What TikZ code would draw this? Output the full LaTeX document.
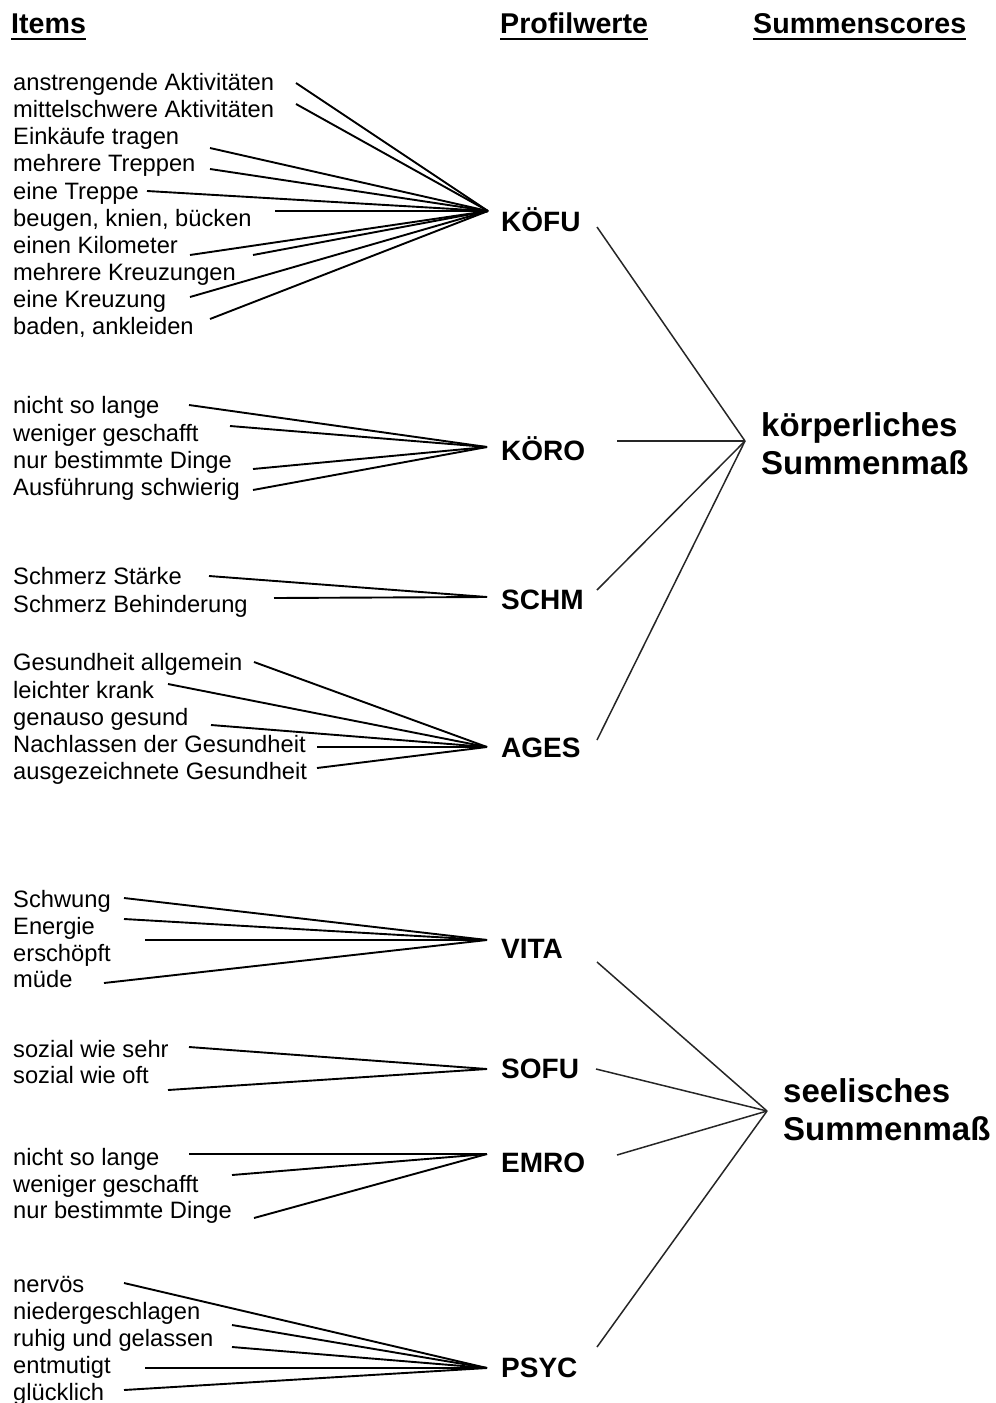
\documentclass[tikz,border=0pt]{standalone}
\usepackage{fontspec}
\setmainfont{Liberation Sans}
\tikzset{
  item/.style={anchor=base west, inner sep=0pt, font=\fontsize{23.7}{27}\selectfont},
  profil/.style={anchor=base west, inner sep=0pt, font=\bfseries\fontsize{28}{32}\selectfont},
  header/.style={anchor=base west, inner sep=0pt, font=\bfseries\fontsize{28.6}{32}\selectfont},
  summe/.style={anchor=base west, inner sep=0pt, align=left, font=\bfseries\fontsize{33}{38}\selectfont},
  fan/.style={line width=1.9pt},
  sumline/.style={line width=1.5pt, black!85},
  uline/.style={line width=1.8pt}
}
\begin{document}
\begin{tikzpicture}[x=1pt, y=-1pt]
        \useasboundingbox (0,0) rectangle (996,1403);
        % headers
        \node[header] (hitems) at (11,33) {Items};
        \node[header] (hprofil) at (500,33) {Profilwerte};
        \node[header] (hsumme) at (753,33) {Summenscores};
        \foreach \h in {hitems,hprofil,hsumme}
            \draw[uline] ([yshift=-6pt]\h.base west) -- ([yshift=-6pt]\h.base east);

        % Profilwerte
        \node[profil] (koefu) at (501,231) {KÖFU};
        \node[profil] (koero) at (501,460) {KÖRO};
        \node[profil] (schm) at (501,609) {SCHM};
        \node[profil] (ages) at (501,757) {AGES};
        \node[profil] (vita) at (501,958) {VITA};
        \node[profil] (sofu) at (501,1078) {SOFU};
        \node[profil] (emro) at (501,1172) {EMRO};
        \node[profil] (psyc) at (501,1377) {PSYC};

        % Summenscores (base = last line)
        \node[summe] (koerper) at (761,474) {körperliches\\Summenmaß};
        \node[summe] (seele) at (783,1140) {seelisches\\Summenmaß};

        % KÖFU items
        \node[item] (koefu1) at (13,90) {anstrengende Aktivitäten};
        \node[item] (koefu2) at (13,117) {mittelschwere Aktivitäten};
        \node[item] (koefu3) at (13,144) {Einkäufe tragen};
        \node[item] (koefu4) at (13,171) {mehrere Treppen};
        \node[item] (koefu5) at (13,199) {eine Treppe};
        \node[item] (koefu6) at (13,226) {beugen, knien, bücken};
        \node[item] (koefu7) at (13,253) {einen Kilometer};
        \node[item] (koefu8) at (13,280) {mehrere Kreuzungen};
        \node[item] (koefu9) at (13,307) {eine Kreuzung};
        \node[item] (koefu10) at (13,334) {baden, ankleiden};

        % KÖRO items
        \node[item] (koero1) at (13,413) {nicht so lange};
        \node[item] (koero2) at (13,441) {weniger geschafft};
        \node[item] (koero3) at (13,468) {nur bestimmte Dinge};
        \node[item] (koero4) at (13,495) {Ausführung schwierig};

        % SCHM items
        \node[item] (schm1) at (13,584) {Schmerz Stärke};
        \node[item] (schm2) at (13,612) {Schmerz Behinderung};

        % AGES items
        \node[item] (ages1) at (13,670) {Gesundheit allgemein};
        \node[item] (ages2) at (13,698) {leichter krank};
        \node[item] (ages3) at (13,725) {genauso gesund};
        \node[item] (ages4) at (13,752) {Nachlassen der Gesundheit};
        \node[item] (ages5) at (13,779) {ausgezeichnete Gesundheit};

        % VITA items
        \node[item] (vita1) at (13,907) {Schwung};
        \node[item] (vita2) at (13,934) {Energie};
        \node[item] (vita3) at (13,961) {erschöpft};
        \node[item] (vita4) at (13,987) {müde};

        % SOFU items
        \node[item] (sofu1) at (13,1057) {sozial wie sehr};
        \node[item] (sofu2) at (13,1083) {sozial wie oft};

        % EMRO items
        \node[item] (emro1) at (13,1165) {nicht so lange};
        \node[item] (emro2) at (13,1192) {weniger geschafft};
        \node[item] (emro3) at (13,1218) {nur bestimmte Dinge};

        % PSYC items
        \node[item] (psyc1) at (13,1292) {nervös};
        \node[item] (psyc2) at (13,1319) {niedergeschlagen};
        \node[item] (psyc3) at (13,1346) {ruhig und gelassen};
        \node[item] (psyc4) at (13,1373) {entmutigt};
        \node[item] (psyc5) at (13,1400) {glücklich};

        % fan points
        \coordinate (koefu-in) at (488,211);
        \coordinate (koero-in) at (487,447);
        \coordinate (schm-in) at (487,597);
        \coordinate (ages-in) at (487,747);
        \coordinate (vita-in) at (487,940);
        \coordinate (sofu-in) at (487,1069);
        \coordinate (emro-in) at (487,1154);
        \coordinate (psyc-in) at (487,1368);
        \coordinate (koefu-out) at (597,227);
        \coordinate (koero-out) at (617,441);
        \coordinate (schm-out) at (597,590);
        \coordinate (ages-out) at (597,740);
        \coordinate (vita-out) at (597,962);
        \coordinate (sofu-out) at (596,1069);
        \coordinate (emro-out) at (617,1155);
        \coordinate (psyc-out) at (597,1347);
        \coordinate (koerper-in) at (745,441);
        \coordinate (seele-in) at (767,1111);

        % items to Profilwerte
        \foreach \x/\y [count=\i] in {296/83,296/104,210/148,210/169,147/191,275/211,190/255,253/255,190/297,210/319}{
            \coordinate (koefu-s\i) at (\x,\y);
            \draw[fan] (koefu-s\i) -- (koefu-in);}
        \foreach \x/\y [count=\i] in {189/405,230/426,253/469,253/490}{
            \coordinate (koero-s\i) at (\x,\y);
            \draw[fan] (koero-s\i) -- (koero-in);}
        \foreach \x/\y [count=\i] in {209/576,274/598}{
            \coordinate (schm-s\i) at (\x,\y);
            \draw[fan] (schm-s\i) -- (schm-in);}
        \foreach \x/\y [count=\i] in {254/662,168/684,211/725,317/747,317/768}{
            \coordinate (ages-s\i) at (\x,\y);
            \draw[fan] (ages-s\i) -- (ages-in);}
        \foreach \x/\y [count=\i] in {124/898,124/919,145/940,104/983}{
            \coordinate (vita-s\i) at (\x,\y);
            \draw[fan] (vita-s\i) -- (vita-in);}
        \foreach \x/\y [count=\i] in {189/1047,168/1090}{
            \coordinate (sofu-s\i) at (\x,\y);
            \draw[fan] (sofu-s\i) -- (sofu-in);}
        \foreach \x/\y [count=\i] in {189/1154,232/1175,254/1218}{
            \coordinate (emro-s\i) at (\x,\y);
            \draw[fan] (emro-s\i) -- (emro-in);}
        \foreach \x/\y [count=\i] in {124/1283,232/1325,232/1347,145/1368,124/1390}{
            \coordinate (psyc-s\i) at (\x,\y);
            \draw[fan] (psyc-s\i) -- (psyc-in);}

        % Profilwerte to Summenscores
        \foreach \p in {koefu,koero,schm,ages}
            \draw[sumline] (\p-out) -- (koerper-in);
        \foreach \p in {vita,sofu,emro,psyc}
            \draw[sumline] (\p-out) -- (seele-in);
    \end{tikzpicture}
\end{document}
